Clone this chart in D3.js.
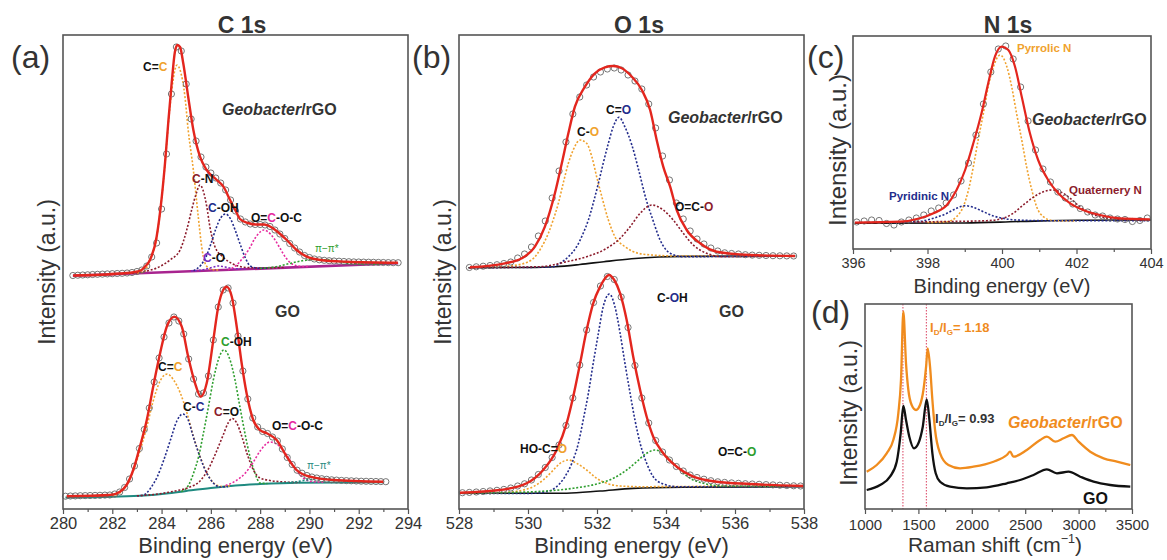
<!DOCTYPE html>
<html><head><meta charset="utf-8">
<script src="https://cdn.jsdelivr.net/npm/d3@7"></script>
<style>body{margin:0;background:#fff}svg{display:block}</style>
</head><body><svg id="c" width="1167" height="560"></svg>
<script>
// ---------------- DATA ----------------
// Panel (a) C 1s, Geobacter/rGO (upper spectrum)
const a1DataStart = 280.4, a1DataStep = 0.2;
const a1Data = [233.5,233.8,234,234.2,234.5,234.7,234.9,235.1,235.3,235.5,235.7,236,236.5,237.5,239,243,252,266,300,355,415,462,458,425,390,368,352,342,336,331,326,319,309,298,290,287,285,284.5,284.5,284,282.5,279,275,270.5,265.5,261,257,253.5,251.5,250,249.2,248.7,248.3,248,247.8,247.5,247.3,247.1,247,246.9,246.8,246.7,246.6,246.5,246.4,246.3,246.3];
const a1Envelope = [[280.41,233.5],[282.31,235.5],[282.92,237],[283.19,239],[283.37,243.5],[283.53,249],[283.8,272.3],[284.01,312.3],[284.14,346],[284.27,386],[284.41,426],[284.54,457],[284.64,464],[284.75,462],[284.88,445.7],[285.08,412.3],[285.29,379],[285.56,352.3],[285.83,339],[286.24,329],[286.51,322.3],[286.78,309],[287.05,296],[287.18,290],[287.51,286],[287.83,284.5],[288.16,284.5],[288.44,282],[288.72,277],[289.08,269],[289.48,259],[289.89,252.3],[290.43,249],[291.51,247.3],[293.59,246.3]];
const a1Baseline = [[280.4,233.2],[293.6,245.7]];
const a1CC = [[283.0,235.9],[283.3,237.5],[283.53,250],[283.8,271],[284.0,310],[284.14,345],[284.27,384],[284.41,418],[284.55,440],[284.63,444],[284.75,439],[284.95,412],[285.08,379],[285.29,339],[285.49,292],[285.63,262],[285.76,246],[285.97,240],[286.3,239]];
const a1CN = [[282.8,235.8],[283.25,237.3],[283.8,241],[284.34,249],[284.75,259],[285.02,279],[285.22,299],[285.4,315],[285.56,324],[285.68,319],[285.83,303],[285.97,281],[286.17,262],[286.49,252],[286.9,245],[287.45,241.5],[288.12,241],[289,241.6]];
const a1COH = [[285.3,238.3],[285.6,244],[285.8,252],[286.0,265],[286.2,280],[286.4,291],[286.6,295],[286.8,290],[287.0,278],[287.2,264],[287.4,251],[287.6,243],[287.9,240.8],[288.3,240.8]];
const a1CO = [[285.2,237.9],[285.6,238.9],[285.9,240.5],[286.1,242],[286.3,243],[286.5,242.5],[286.7,241.3],[287.0,240.2],[287.4,240.0]];
const a1OCOC = [[286.7,239.3],[287.0,243],[287.3,251],[287.55,260],[287.8,271],[288.0,277],[288.15,279],[288.3,277.5],[288.55,271],[288.8,261],[289.05,251],[289.3,245],[289.7,242.5],[290.0,242.5]];
const a1PiPi = [[288.0,240.6],[288.7,242.5],[289.2,245.5],[289.7,248.2],[290.2,249.5],[290.7,249.2],[291.2,247.3],[291.8,245.2],[292.5,244.8],[293.3,245.5]];

// Panel (a) C 1s, GO (lower spectrum)
const a2DataStart = 280.1, a2DataStep = 0.2;
const a2Data = [12.8,13,13.1,13.3,13.4,13.5,13.6,13.7,13.9,14,15,17,21.5,30,43,60.5,79.5,101,127,151,172,186,192,188,175,150,130,115,116,133,169,202,219,221,206,173,138,110,91,82,77.5,75.5,72,68,60,51.5,44.5,38.8,35.8,33.5,32,31,30.3,29.7,29.2,28.9,28.6,28.4,28.2,28,27.8,27.7,27.6,27.5,27.4,27.3];
const a2Envelope = [[280.15,12.8],[281.91,14],[282.31,17.3],[282.58,24],[282.85,39],[283.12,62.3],[283.4,89],[283.66,122.3],[283.94,155.7],[284.21,182.3],[284.52,192.3],[284.82,182.3],[285.08,152.3],[285.36,125.7],[285.59,112.3],[285.83,125.7],[286.1,169],[286.3,202.3],[286.5,219],[286.64,222.3],[286.85,212.3],[287.05,182.3],[287.25,145.7],[287.45,115.7],[287.72,89],[287.99,79],[288.27,75.7],[288.67,69],[289.08,52.3],[289.48,39],[290.02,32.3],[290.97,29],[293.0,27.3]];
const a2Baseline = [[280.1,11.5],[282,12.3],[283.3,13.5],[284.2,15.5],[285,18],[286,21],[287,23.5],[288,25],[289.5,26.3],[293,26.7]];
const a2CC = [[282.0,13],[282.3,16],[282.58,24],[282.85,38],[283.12,58],[283.4,82],[283.66,108],[283.94,128],[284.23,135],[284.49,129],[284.76,116],[285.03,96],[285.3,72],[285.57,52],[285.84,36],[286.11,26],[286.45,22.5],[286.8,23.2]];
const a2CminusC = [[283.0,13.2],[283.28,14],[283.55,20.7],[283.82,32],[284.09,49],[284.36,69],[284.62,88],[284.86,95],[285.08,89],[285.29,72],[285.56,52],[285.83,36],[286.1,26],[286.37,22],[286.7,22.5]];
const a2COH = [[284.8,17.5],[285.1,24],[285.3,36],[285.5,52],[285.7,76],[285.9,102],[286.1,129],[286.3,149],[286.53,159],[286.78,149],[286.98,129],[287.18,102],[287.38,76],[287.59,52],[287.79,36],[287.99,26],[288.3,25.5]];
const a2CeqO = [[283.0,13.2],[284.0,15.5],[284.5,17.8],[285.1,21.5],[285.56,28],[285.9,40],[286.2,56],[286.5,74],[286.7,86],[286.87,90.5],[287.05,86],[287.25,73],[287.5,53],[287.75,38],[288.0,31],[288.4,28.5],[289.0,27],[289.6,26.5]];
const a2OCOC = [[286.6,23.5],[287.0,28],[287.4,36],[287.7,46],[288.0,58],[288.4,67],[288.75,63.5],[289.1,53],[289.4,41],[289.75,31],[290.1,27.5],[290.6,26.7]];
const a2PiPi = [[288.8,25.9],[289.4,27],[290.0,29.5],[290.5,30.5],[291.0,29.5],[291.6,27.5],[292.3,26.8]];

// Panel (b) O 1s, Geobacter/rGO
const b1DataStart = 528.3, b1DataStep = 0.2;
const b1Data = [241.5,242.2,242.8,243.5,244.3,245.5,247,251,255,262,273,288,311,338,367,395,412,424,432,437,440,441,439,434,428,420,405,381,353,329,306,290,278,270,265,261,258,256.2,255.5,255,254.3,253.9,253.7,253.5,253.3,253.2,253.1,253];
const b1Envelope = [[528.32,241.7],[529.33,245.7],[529.82,250.7],[530.2,262.3],[530.49,282.3],[530.78,315.7],[530.98,345.7],[531.17,375.7],[531.36,402.3],[531.65,422.3],[531.94,435.7],[532.23,441.7],[532.47,443],[532.72,440.7],[533.01,432.3],[533.3,419],[533.54,399],[533.73,369],[533.92,342.3],[534.12,322.3],[534.31,299],[534.6,279],[534.99,265.7],[535.47,257.3],[536.43,254],[537.74,253]];
const b1Baseline = [[528.27,241.3],[530.0,241.5],[530.8,242.3],[531.5,244.5],[532.2,247.3],[533.0,250.2],[533.8,252],[534.5,252.6],[537.75,253]];
const b1CO = [[528.3,241.5],[528.9,241.7],[529.6,243.5],[530.1,249],[530.4,262.3],[530.59,275.7],[530.73,289],[530.88,305.7],[531.02,325.7],[531.17,345.7],[531.31,359],[531.51,369],[531.7,365.7],[531.85,352.3],[531.99,332.3],[532.14,312.3],[532.33,289],[532.52,272.3],[532.81,262.3],[533.2,255.7],[533.59,254],[534.31,253],[535.5,253]];
const b1CeqO = [[528.3,241.3],[530.69,241.9],[530.93,245.7],[531.17,252.3],[531.41,262.3],[531.6,275.7],[531.75,289],[531.89,305.7],[532.04,325.7],[532.18,345.7],[532.33,365.7],[532.47,382.3],[532.64,391.7],[532.81,382],[533.01,364],[533.2,340],[533.42,310],[533.61,290],[533.83,269],[534.12,255.7],[534.49,252.3],[535.57,252.5],[537.7,253]];
const b1OCO = [[528.3,241.3],[530.35,242.3],[531.12,247.3],[531.7,252.3],[532.28,260.7],[532.67,270.7],[532.96,282.3],[533.25,295.7],[533.59,304],[533.92,299],[534.21,289],[534.5,275.7],[534.79,264],[535.18,255.7],[535.66,252.3],[536.72,252.6],[537.7,253]];

// Panel (b) O 1s, GO
const b2DataStart = 528.1, b2DataStep = 0.2;
const b2Data = [16.3,16.6,17,17.5,18.1,18.7,19.6,21,23,25.2,29,34.5,41.5,51.5,64,83.5,111,144,179,206.5,223,232.5,229.5,212,181.5,143.5,111,86,68.5,57,49,42.5,38,34,31.5,29.8,28.3,27.2,26.6,26.1,25.7,25.3,25,24.7,24.4,24.1,23.8,23.5,23.2,23];
const b2Envelope = [[528.03,16.3],[529.19,19],[529.96,25.7],[530.44,39],[530.83,59],[531.12,85.7],[531.31,112.3],[531.51,145.7],[531.7,179],[531.89,205.7],[532.09,222.3],[532.22,230],[532.35,234],[532.5,229],[532.67,215.7],[532.86,189],[533.05,152.3],[533.25,119],[533.44,92.3],[533.63,72.3],[533.92,55.7],[534.31,42.3],[534.79,32.3],[535.47,27.3],[536.43,25],[537.98,23]];
const b2Baseline = [[528.03,15.7],[531.12,15.8],[532.09,18],[533.05,20.6],[534.5,21.7],[537.98,22.3]];
const b2HOCO = [[528.1,15.8],[529.19,16.3],[529.77,18.3],[530.15,22.3],[530.44,29],[530.69,37.3],[530.93,45.7],[531.17,49],[531.41,45.7],[531.7,39],[531.99,30.7],[532.28,25.7],[532.67,23],[533.25,22.3],[535,22.6],[537.9,23]];
const b2COH = [[528.1,15.5],[530.0,15.6],[530.54,17.3],[530.83,22.3],[531.07,32.3],[531.27,45.7],[531.46,65.7],[531.6,89],[531.75,115.7],[531.89,145.7],[532.04,175.7],[532.18,202.3],[532.36,215],[532.52,202.3],[532.67,175.7],[532.81,145.7],[532.96,115.7],[533.1,89],[533.25,65.7],[533.44,45.7],[533.63,32.3],[533.92,25],[534.31,22.3],[535.5,22.3],[537.9,22.5]];
const b2OCO = [[528.1,15.8],[529.19,16.3],[530.54,18],[531.31,20.7],[531.99,25],[532.47,30.7],[532.86,39],[533.15,47.3],[533.44,55.7],[533.68,59],[533.92,55.7],[534.17,47.3],[534.41,39],[534.7,30.7],[535.08,25.7],[535.66,23],[537.3,22.6]];

// Panel (c) N 1s
const cDataStart = 396.1, cDataStep = 0.2;
const cData = [27,28,29,28.5,25.5,24,27,29,31,34,38,41,46,54,68,86,114,145,177,200,203,190,162,128,99,80,67,57,51,45,40.5,37,34,33,31,30,29.5,27.5,28.5,31];
const cEnvelope = [[396.05,26.3],[397.26,27.3],[397.8,30.7],[398.16,35.7],[398.52,44],[398.78,59],[399.01,79],[399.23,105.7],[399.45,135.7],[399.63,165.7],[399.81,192.3],[399.99,202.3],[400.17,199],[400.35,182.3],[400.53,152.3],[400.75,115.7],[400.97,89],[401.24,69],[401.51,55.7],[401.83,45.7],[402.18,39],[402.63,34],[403.17,30.7],[403.97,29.7]];
const cBaseline = [[396.05,25.7],[399,26],[400.5,27.5],[402,28.7],[404,29]];
const cPyrrolic = [[398.0,26.5],[398.52,27.3],[398.78,32.3],[398.96,42.3],[399.1,59],[399.23,82.3],[399.36,109],[399.5,135.7],[399.63,162.3],[399.77,182.3],[399.95,194],[400.13,182.3],[400.26,162.3],[400.39,135.7],[400.53,109],[400.66,82.3],[400.8,59],[400.93,42.3],[401.11,32.3],[401.38,28.3],[402,28]];
const cPyridinic = [[397.0,26.5],[397.71,27.3],[398.16,30.7],[398.52,35.7],[398.78,40.7],[399.01,43.3],[399.23,41.7],[399.5,37.3],[399.77,33],[400.03,30.7],[400.39,29],[401.29,28.3],[403.97,28.3]];
const cQuaternary = [[396.1,26.3],[398.16,27.3],[399.59,28.3],[400.03,30.7],[400.3,35.7],[400.57,44],[400.84,51.7],[401.11,57.3],[401.33,59],[401.56,57.3],[401.83,50.7],[402.09,42.3],[402.36,35.7],[402.72,31.7],[403.17,29.7],[403.97,29]];

// Panel (d) Raman
const dRGO = [[1016,37.3],[1110,44],[1203,55.7],[1265,69],[1312,95.7],[1337,129],[1359,197.3],[1384,145.7],[1406,119],[1437,104],[1478,99],[1515,104],[1547,119],[1572,142.3],[1587,160.7],[1609,142.3],[1631,109],[1656,79],[1703,55.7],[1781,44],[1890,40.7],[2015,42.3],[2203,47.3],[2328,54],[2359,57.3],[2390,52.3],[2515,59],[2640,69],[2703,72.3],[2781,67.3],[2859,70.7],[2937,74],[3000,67.3],[3109,57.3],[3234,50.7],[3359,47.3],[3484,44]];
const dGO = [[1016,19],[1141,24],[1234,32.3],[1297,47.3],[1334,75.7],[1359,103],[1384,89],[1415,72.3],[1459,60.7],[1500,65.7],[1541,82.3],[1578,109.7],[1603,89],[1631,55.7],[1662,35.7],[1703,27.3],[1797,22.3],[1953,20.7],[2140,21.7],[2328,25.7],[2453,29],[2578,34],[2703,39.7],[2797,35.7],[2906,37.3],[3015,32.3],[3140,27.3],[3296,24],[3484,22.3]];
const dBands = [1355, 1575];

// Tick values
const aTicks = [280,282,284,286,288,290,292,294], aMinor = [281,283,285,287,289,291,293];
const bTicks = [528,530,532,534,536,538], bMinor = [529,531,533,535,537];
const cTicks = [396,398,400,402,404], cMinor = [397,399,401,403];
const dTicks = [1000,1500,2000,2500,3000,3500], dMinor = [1250,1750,2250,2750,3250];

// ---------------- DRAWING ----------------
const FONT = '"Liberation Sans", Arial, Helvetica, sans-serif';
const FR = '#555', TX = '#333', BK = '#111';
const ORANGE = '#f0a22e', MAROON = '#8c1c2c', NAVY = '#232c8c', PURPLE = '#7a2cc0',
      MAGENTA = '#e62a9e', GREEN = '#2e9e2e', TEAL = '#1f8a80', RED = '#e3261e', RORANGE = '#f08c1e';
const svg = d3.select('#c').attr('font-family', FONT);

const P = {
  a: {x: d3.scaleLinear().domain([280,294]).range([63,408]), y: d3.scaleLinear().domain([0,474]).range([509,35])},
  b: {x: d3.scaleLinear().domain([528,538]).range([459,804]), y: d3.scaleLinear().domain([0,474]).range([509,35])},
  c: {x: d3.scaleLinear().domain([396,404]).range([853,1151]), y: d3.scaleLinear().domain([0,213]).range([249,36])},
  d: {x: d3.scaleLinear().domain([1000,3500]).range([865,1132]), y: d3.scaleLinear().domain([0,205]).range([509,304])}
};

function line(p, data, color, width, dash) {
  const gen = d3.line().x(d => p.x(d[0])).y(d => p.y(d[1])).curve(d3.curveMonotoneX);
  svg.append('path').datum(data).attr('d', gen).attr('fill','none')
    .attr('stroke', color).attr('stroke-width', width)
    .attr('stroke-dasharray', dash || null).attr('stroke-linejoin','round');
}
function circles(p, start, step, vals) {
  const pts = vals.map((v,i) => [start + i*step, v]);
  svg.append('g').selectAll('circle').data(pts).join('circle')
    .attr('cx', d => p.x(d[0])).attr('cy', d => p.y(d[1])).attr('r', 3.1)
    .attr('fill','none').attr('stroke','#666').attr('stroke-width',0.9);
}
function frame(p) {
  const [x0,x1] = p.x.range(), [y0,y1] = p.y.range();
  svg.append('rect').attr('x',x0).attr('y',y1).attr('width',x1-x0).attr('height',y0-y1)
    .attr('fill','none').attr('stroke',FR).attr('stroke-width',1.6);
}
function axis(p, major, minor, fs, pad) {
  const yb = p.y.range()[0];
  const gm = svg.append('g').attr('transform',`translate(0,${yb})`)
    .call(d3.axisBottom(p.x).tickValues(minor).tickSize(3).tickFormat(''));
  gm.select('.domain').remove();
  gm.selectAll('line').attr('stroke',FR).attr('stroke-width',1.2);
  const g = svg.append('g').attr('transform',`translate(0,${yb})`)
    .call(d3.axisBottom(p.x).tickValues(major).tickSize(5).tickPadding(pad).tickFormat(d3.format('d')));
  g.attr('font-family',FONT).attr('font-size',fs);
  g.select('.domain').remove();
  g.selectAll('line').attr('stroke',FR).attr('stroke-width',1.2);
  g.selectAll('text').attr('fill',TX);
}
const DOT = '2 1.8';
function rich(x, y, segs, size, weight, anchor) {
  const t = svg.append('text').attr('x',x).attr('y',y).attr('font-size',size)
    .attr('font-weight',weight||'bold').attr('text-anchor',anchor||'start');
  segs.forEach(s => {
    const ts = t.append('tspan').text(s[0]).attr('fill', s[1]);
    if (s[2] === 'i') ts.attr('font-style','italic');
    if (s[2] === 'sub') ts.attr('font-size', size*0.62).attr('dy', 3);
    if (s[2] === 'up') ts.attr('dy', -3);
    if (s[2] === 'sup') ts.attr('font-size', size*0.6).attr('dy', -9);
    if (s[2] === 'down') ts.attr('dy', 9);
  });
  return t;
}

// ---- Panel (a)
const pa = P.a;
line(pa, a1Baseline, '#a8248f', 2.6);
line(pa, a1CC, ORANGE, 1.6, DOT);
line(pa, a1CN, MAROON, 1.6, DOT);
line(pa, a1COH, NAVY, 1.6, DOT);
line(pa, a1CO, PURPLE, 1.6, DOT);
line(pa, a1OCOC, MAGENTA, 1.6, DOT);
line(pa, a1PiPi, GREEN, 1.6, DOT);
circles(pa, a1DataStart, a1DataStep, a1Data);
line(pa, a1Envelope, RED, 2.4);

line(pa, a2Baseline, TEAL, 2);
line(pa, a2CC, ORANGE, 1.6, DOT);
line(pa, a2CminusC, NAVY, 1.6, DOT);
line(pa, a2COH, GREEN, 1.6, DOT);
line(pa, a2CeqO, MAROON, 1.6, DOT);
line(pa, a2OCOC, MAGENTA, 1.6, DOT);
line(pa, a2PiPi, TEAL, 1.6, DOT);
circles(pa, a2DataStart, a2DataStep, a2Data);
line(pa, a2Envelope, RED, 2.4);
frame(pa); axis(pa, aTicks, aMinor, 16.5, 3);

// ---- Panel (b)
const pb = P.b;
line(pb, b1Baseline, BK, 1.6);
line(pb, b1CO, ORANGE, 1.6, DOT);
line(pb, b1CeqO, NAVY, 1.6, DOT);
line(pb, b1OCO, MAROON, 1.6, DOT);
circles(pb, b1DataStart, b1DataStep, b1Data);
line(pb, b1Envelope, RED, 2.4);

line(pb, b2Baseline, BK, 1.6);
line(pb, b2HOCO, ORANGE, 1.6, DOT);
line(pb, b2COH, NAVY, 1.6, DOT);
line(pb, b2OCO, GREEN, 1.6, DOT);
circles(pb, b2DataStart, b2DataStep, b2Data);
line(pb, b2Envelope, RED, 2.4);
frame(pb); axis(pb, bTicks, bMinor, 16.5, 3);

// ---- Panel (c)
const pc = P.c;
line(pc, cBaseline, BK, 1.6);
line(pc, cPyrrolic, ORANGE, 1.6, DOT);
line(pc, cPyridinic, NAVY, 1.6, DOT);
line(pc, cQuaternary, MAROON, 1.6, DOT);
circles(pc, cDataStart, cDataStep, cData);
line(pc, cEnvelope, RED, 2.2);
frame(pc); axis(pc, cTicks, cMinor, 14.5, 4);

// ---- Panel (d)
const pd = P.d;
svg.append('g').selectAll('line').data(dBands).join('line')
  .attr('x1', d => pd.x(d)).attr('x2', d => pd.x(d))
  .attr('y1', pd.y.range()[1]).attr('y2', pd.y.range()[0])
  .attr('stroke','#e0607a').attr('stroke-width',1.2).attr('stroke-dasharray','1.5 1.5');
line(pd, dRGO, RORANGE, 2.3);
line(pd, dGO, BK, 2.3);
frame(pd); axis(pd, dTicks, dMinor, 15, 5);

// ---- Titles, letters, axis labels
[['C 1s',242],['O 1s',639],['N 1s',1008]].forEach(t =>
  svg.append('text').attr('x',t[1]).attr('y',33).attr('text-anchor','middle')
    .attr('font-size',23).attr('font-weight','bold').attr('fill',TX).text(t[0]));
[['(a)',11,68],['(b)',412,68],['(c)',807,68],['(d)',811,323]].forEach(t =>
  svg.append('text').attr('x',t[1]).attr('y',t[2]).attr('font-size',32).attr('fill',TX).text(t[0]));
[[235.5,553,22],[631.5,553,22],[1002,293,20]].forEach(t =>
  svg.append('text').attr('x',t[0]).attr('y',t[1]).attr('text-anchor','middle')
    .attr('font-size',t[2]).attr('fill',TX).text('Binding energy (eV)'));
rich(995, 552, [['Raman shift (cm',TX],['\u22121',TX,'sup'],[')',TX,'down']], 21, 'normal', 'middle');
[[55,272,23],[451,272,23],[846,150,24],[857,413,23]].forEach(t =>
  svg.append('text').attr('transform',`translate(${t[0]},${t[1]}) rotate(-90)`)
    .attr('text-anchor','middle').attr('font-size',t[2]).attr('fill',TX).text('Intensity (a.u.)'));

// ---- Peak labels
const gl = (x,y,c) => rich(x,y,[['Geobacter',c,'i'],['/rGO',c]],16,'bold');
// (a)
rich(143,71,[['C=',BK],['C',ORANGE]],12);
gl(222,115,TX);
rich(192,183,[['C',MAROON],['-N',BK]],12);
rich(208,212,[['C',NAVY],['-OH',BK]],12);
rich(203,262,[['C',PURPLE],['-O',BK]],12);
rich(251,222,[['O=',BK],['C',MAGENTA],['-O-C',BK]],12);
rich(315,252,[['\u03c0\u2212\u03c0*',GREEN]],10,'normal');
rich(275,317,[['GO',TX]],16);
rich(158,371,[['C=',BK],['C',ORANGE]],12);
rich(183,411,[['C-',BK],['C',NAVY]],12);
rich(221,346,[['C',GREEN],['-OH',BK]],12);
rich(214,416,[['C',MAROON],['=O',BK]],12);
rich(272,430,[['O=',BK],['C',MAGENTA],['-O-C',BK]],12);
rich(307,469,[['\u03c0\u2212\u03c0*',TEAL]],10,'normal');
// (b)
gl(668,123,TX);
rich(606,114,[['C=',BK],['O',NAVY]],12);
rich(577,136,[['C-',BK],['O',ORANGE]],12);
rich(675,211,[['O=C-',BK],['O',MAROON]],12);
rich(657,302,[['C-',BK],['O',NAVY],['H',BK]],12);
rich(719,317,[['GO',TX]],16);
rich(520,453,[['HO-C=',BK],['O',ORANGE]],12);
rich(718,456,[['O=C-',BK],['O',GREEN]],12);
// (c)
rich(1017,52,[['Pyrrolic N',ORANGE]],11.5);
gl(1032,125,TX);
rich(889,200,[['Pyridinic N',NAVY]],11.5);
rich(1069,194,[['Quaternery N',MAROON]],11.5);
// (d)
rich(930,332,[['I',RORANGE],['D',RORANGE,'sub'],['/',RORANGE,'up'],['I',RORANGE],['G',RORANGE,'sub'],['= 1.18',RORANGE,'up']],13);
rich(935,423,[['I',TX],['D',TX,'sub'],['/',TX,'up'],['I',TX],['G',TX,'sub'],['= 0.93',TX,'up']],13);
gl(1008,428,RORANGE);
rich(1083,504,[['GO',BK]],16);
</script>
</body></html>
